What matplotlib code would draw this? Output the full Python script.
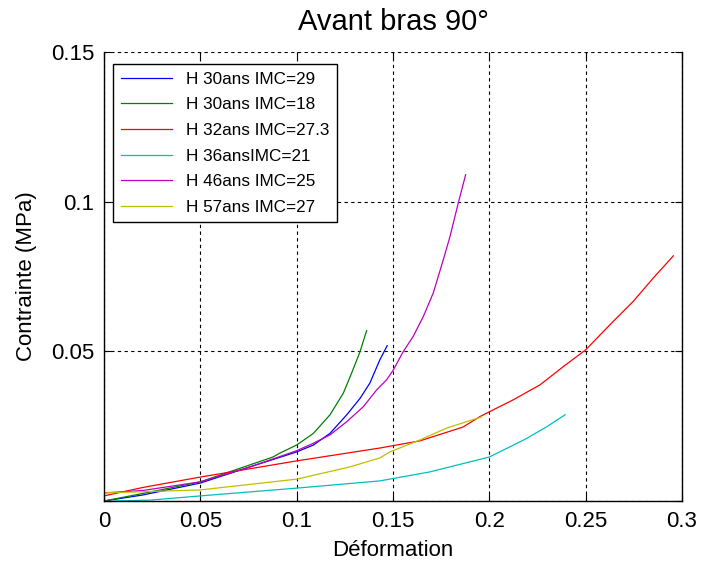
import matplotlib
matplotlib.use("Agg")
import matplotlib.pyplot as plt

plt.rcParams['font.family'] = ['Liberation Sans', 'DejaVu Sans']

labels = ["H 30ans IMC=29", "H 30ans IMC=18", "H 32ans IMC=27.3",
          "H 36ansIMC=21", "H 46ans IMC=25", "H 57ans IMC=27"]
colors = ["#0000ff", "#008000", "#ff0000", "#00bfbf", "#bf00bf", "#bfbf00"]

blue_x = [0.0, 0.02, 0.05, 0.0758, 0.1, 0.1087, 0.1173, 0.126, 0.1329, 0.138, 0.1432, 0.147]
blue_y = [0.0, 0.002, 0.006, 0.0114, 0.0164, 0.0187, 0.0226, 0.0288, 0.0343, 0.0394, 0.0472, 0.0519]

green_x = [0.0, 0.02, 0.05, 0.0877, 0.0913, 0.1, 0.1087, 0.1173, 0.1242, 0.1285, 0.1329, 0.1363]
green_y = [0.0, 0.0025, 0.0064, 0.0147, 0.016, 0.0187, 0.0226, 0.0288, 0.036, 0.0427, 0.0499, 0.0569]

red_x = [0.0, 0.02, 0.05, 0.1, 0.1432, 0.164, 0.1863, 0.1951, 0.2003, 0.2124, 0.2263,
         0.2384, 0.25, 0.2643, 0.2747, 0.2851, 0.2955]
red_y = [0.0017, 0.0045, 0.008, 0.0134, 0.0177, 0.0201, 0.0247, 0.0282, 0.0299, 0.0338,
         0.0388, 0.0449, 0.0505, 0.06, 0.0667, 0.0745, 0.0819]

cyan_x = [0.005, 0.024, 0.05, 0.1, 0.143, 0.169, 0.2, 0.2185, 0.2298, 0.2393]
cyan_y = [0.0, 0.0003, 0.0017, 0.0043, 0.0067, 0.0097, 0.0147, 0.0206, 0.0248, 0.0288]

mag_x = [0.0, 0.02, 0.05, 0.0758, 0.1, 0.1087, 0.1173, 0.126, 0.1346, 0.1415, 0.1467,
         0.1502, 0.1553, 0.1605, 0.1657, 0.1709, 0.1761, 0.1796, 0.1839, 0.1877]
mag_y = [0.0027, 0.0035, 0.0064, 0.0114, 0.0168, 0.0193, 0.0221, 0.0265, 0.0315, 0.0371,
         0.0405, 0.0438, 0.0499, 0.055, 0.0616, 0.0695, 0.0806, 0.0884, 0.0996, 0.109]

yel_x = [0.0, 0.05, 0.1, 0.1277, 0.1432, 0.1484, 0.164, 0.178, 0.196]
yel_y = [0.0027, 0.0037, 0.0073, 0.0114, 0.0144, 0.0164, 0.0204, 0.0244, 0.0281]

series_x = [blue_x, green_x, red_x, cyan_x, mag_x, yel_x]
series_y = [blue_y, green_y, red_y, cyan_y, mag_y, yel_y]

xticks = [0, 0.05, 0.1, 0.15, 0.2, 0.25, 0.3]
xticklabels = ["0", "0.05", "0.1", "0.15", "0.2", "0.25", "0.3"]
yticks = [0, 0.05, 0.1, 0.15]
yticklabels = ["", "0.05", "0.1", "0.15"]

fig = plt.figure(figsize=(7.03, 5.65), dpi=100)
ax = fig.add_axes([104/703, 1 - 501/565, (682-104)/703, (501-52)/565])

for xs, ys, c, lab in zip(series_x, series_y, colors, labels):
    ax.plot(xs, ys, color=c, lw=0.9, label=lab)

ax.set_xlim(0, 0.3)
ax.set_ylim(0, 0.15)
ax.set_xticks(xticks)
ax.set_xticklabels(xticklabels)
ax.set_yticks(yticks)
ax.set_yticklabels(yticklabels)
ax.tick_params(direction='in', top=True, right=True, labelsize=16, length=5,
               width=0.8, pad=7)
ax.grid(True, color='black', linestyle=(0, (3, 3)), linewidth=0.8)
for s in ['left', 'bottom', 'right']:
    ax.spines[s].set_linewidth(1.0)
ax.spines['top'].set_visible(False)

ax.set_title("Avant bras 90°", fontsize=21, pad=16)
ax.set_xlabel("Déformation", fontsize=16, labelpad=6)
ax.set_ylabel("Contrainte (MPa)", fontsize=16, labelpad=10)

leg = ax.legend(loc='upper left', bbox_to_anchor=(0.0156, 0.973), fontsize=12.3,
                frameon=True, fancybox=False, edgecolor='black', framealpha=1,
                handlelength=3.0, borderaxespad=0.0, labelspacing=0.62,
                borderpad=0.45)
leg.get_frame().set_linewidth(1.0)

fig.savefig("out.png", dpi=100)
